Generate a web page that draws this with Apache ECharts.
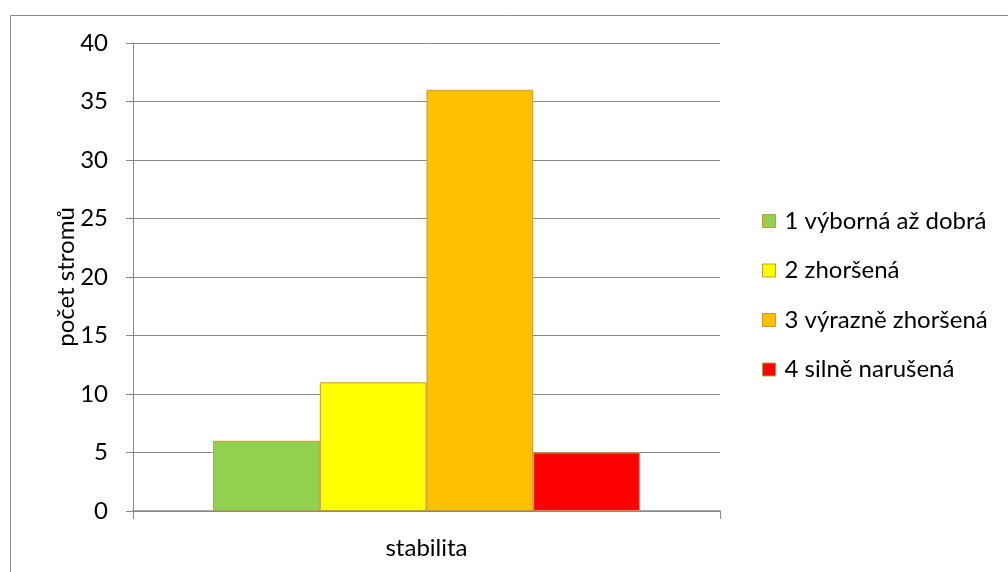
<!DOCTYPE html>
<html><head><meta charset="utf-8">
<script src="https://cdn.jsdelivr.net/npm/echarts@6/dist/echarts.min.js"></script>
<style>html,body{margin:0;padding:0;background:#fff}#c{width:1008px;height:572px}</style>
</head><body><div id="c"></div>
<script>
const categories = ['stabilita'];
const seriesNames = ['1 výborná až dobrá', '2 zhoršená', '3 výrazně zhoršená', '4 silně narušená'];
const seriesValues = [[6], [11], [36], [5]];
const seriesColors = ['#92D050', '#FFFF00', '#FFC000', '#FF0000'];
const yTicks = [0, 5, 10, 15, 20, 25, 30, 35, 40];
const yName = 'počet stromů';

const FONT = 'Lato, "Open Sans", sans-serif';
const FS = 24;
const chart = echarts.init(document.getElementById('c'), null, {renderer: 'canvas'});
chart.setOption({
  animation: false,
  backgroundColor: '#fff',
  textStyle: {fontFamily: FONT},
  graphic: [{
    type: 'rect', left: 8, top: 13, silent: true,
    shape: {width: 1010, height: 570},
    style: {fill: 'none', stroke: '#888', lineWidth: 1}
  }, {
    type: 'text', x: 66, y: 277, rotation: Math.PI / 2, silent: true,
    style: {text: yName, fill: '#000', font: FS + 'px ' + FONT, align: 'center', verticalAlign: 'middle'}
  }],
  grid: {left: 133, right: 288, top: 43, bottom: 61, containLabel: false},
  legend: {
    orient: 'vertical', left: 757, top: 204,
    itemWidth: 13, itemHeight: 13, itemGap: 25.5,
    textStyle: {fontSize: FS, lineHeight: 24, color: '#000', fontFamily: FONT, padding: [0, 0, 0, 4]},
    data: seriesNames.map((n, i) => ({name: n, icon: 'rect',
      itemStyle: {color: seriesColors[i], borderColor: '#C99A2E', borderWidth: 1}}))
  },
  xAxis: {
    type: 'category', data: categories,
    axisLine: {lineStyle: {color: '#888', width: 1.5}},
    axisTick: {show: true, length: 8, lineStyle: {color: '#888'}},
    axisLabel: {fontSize: FS, color: '#000', margin: 25, fontFamily: FONT}
  },
  yAxis: {
    type: 'value', min: 0, max: 40, interval: 5,
    axisLine: {show: true, lineStyle: {color: '#888', width: 1}},
    axisTick: {show: true, inside: false, length: 7, lineStyle: {color: '#888'}},
    axisLabel: {fontSize: FS, color: '#000', margin: 25, fontFamily: FONT,
      formatter: v => yTicks.includes(v) ? String(v) : ''},
    splitLine: {show: true, lineStyle: {color: '#888', width: 1}}
  },
  series: seriesNames.map((n, i) => ({
    name: n, type: 'bar', data: seriesValues[i],
    barGap: '0%', barCategoryGap: '27.3%',
    itemStyle: {color: seriesColors[i], borderColor: '#C99A2E', borderWidth: 1}
  }))
});
</script></body></html>
